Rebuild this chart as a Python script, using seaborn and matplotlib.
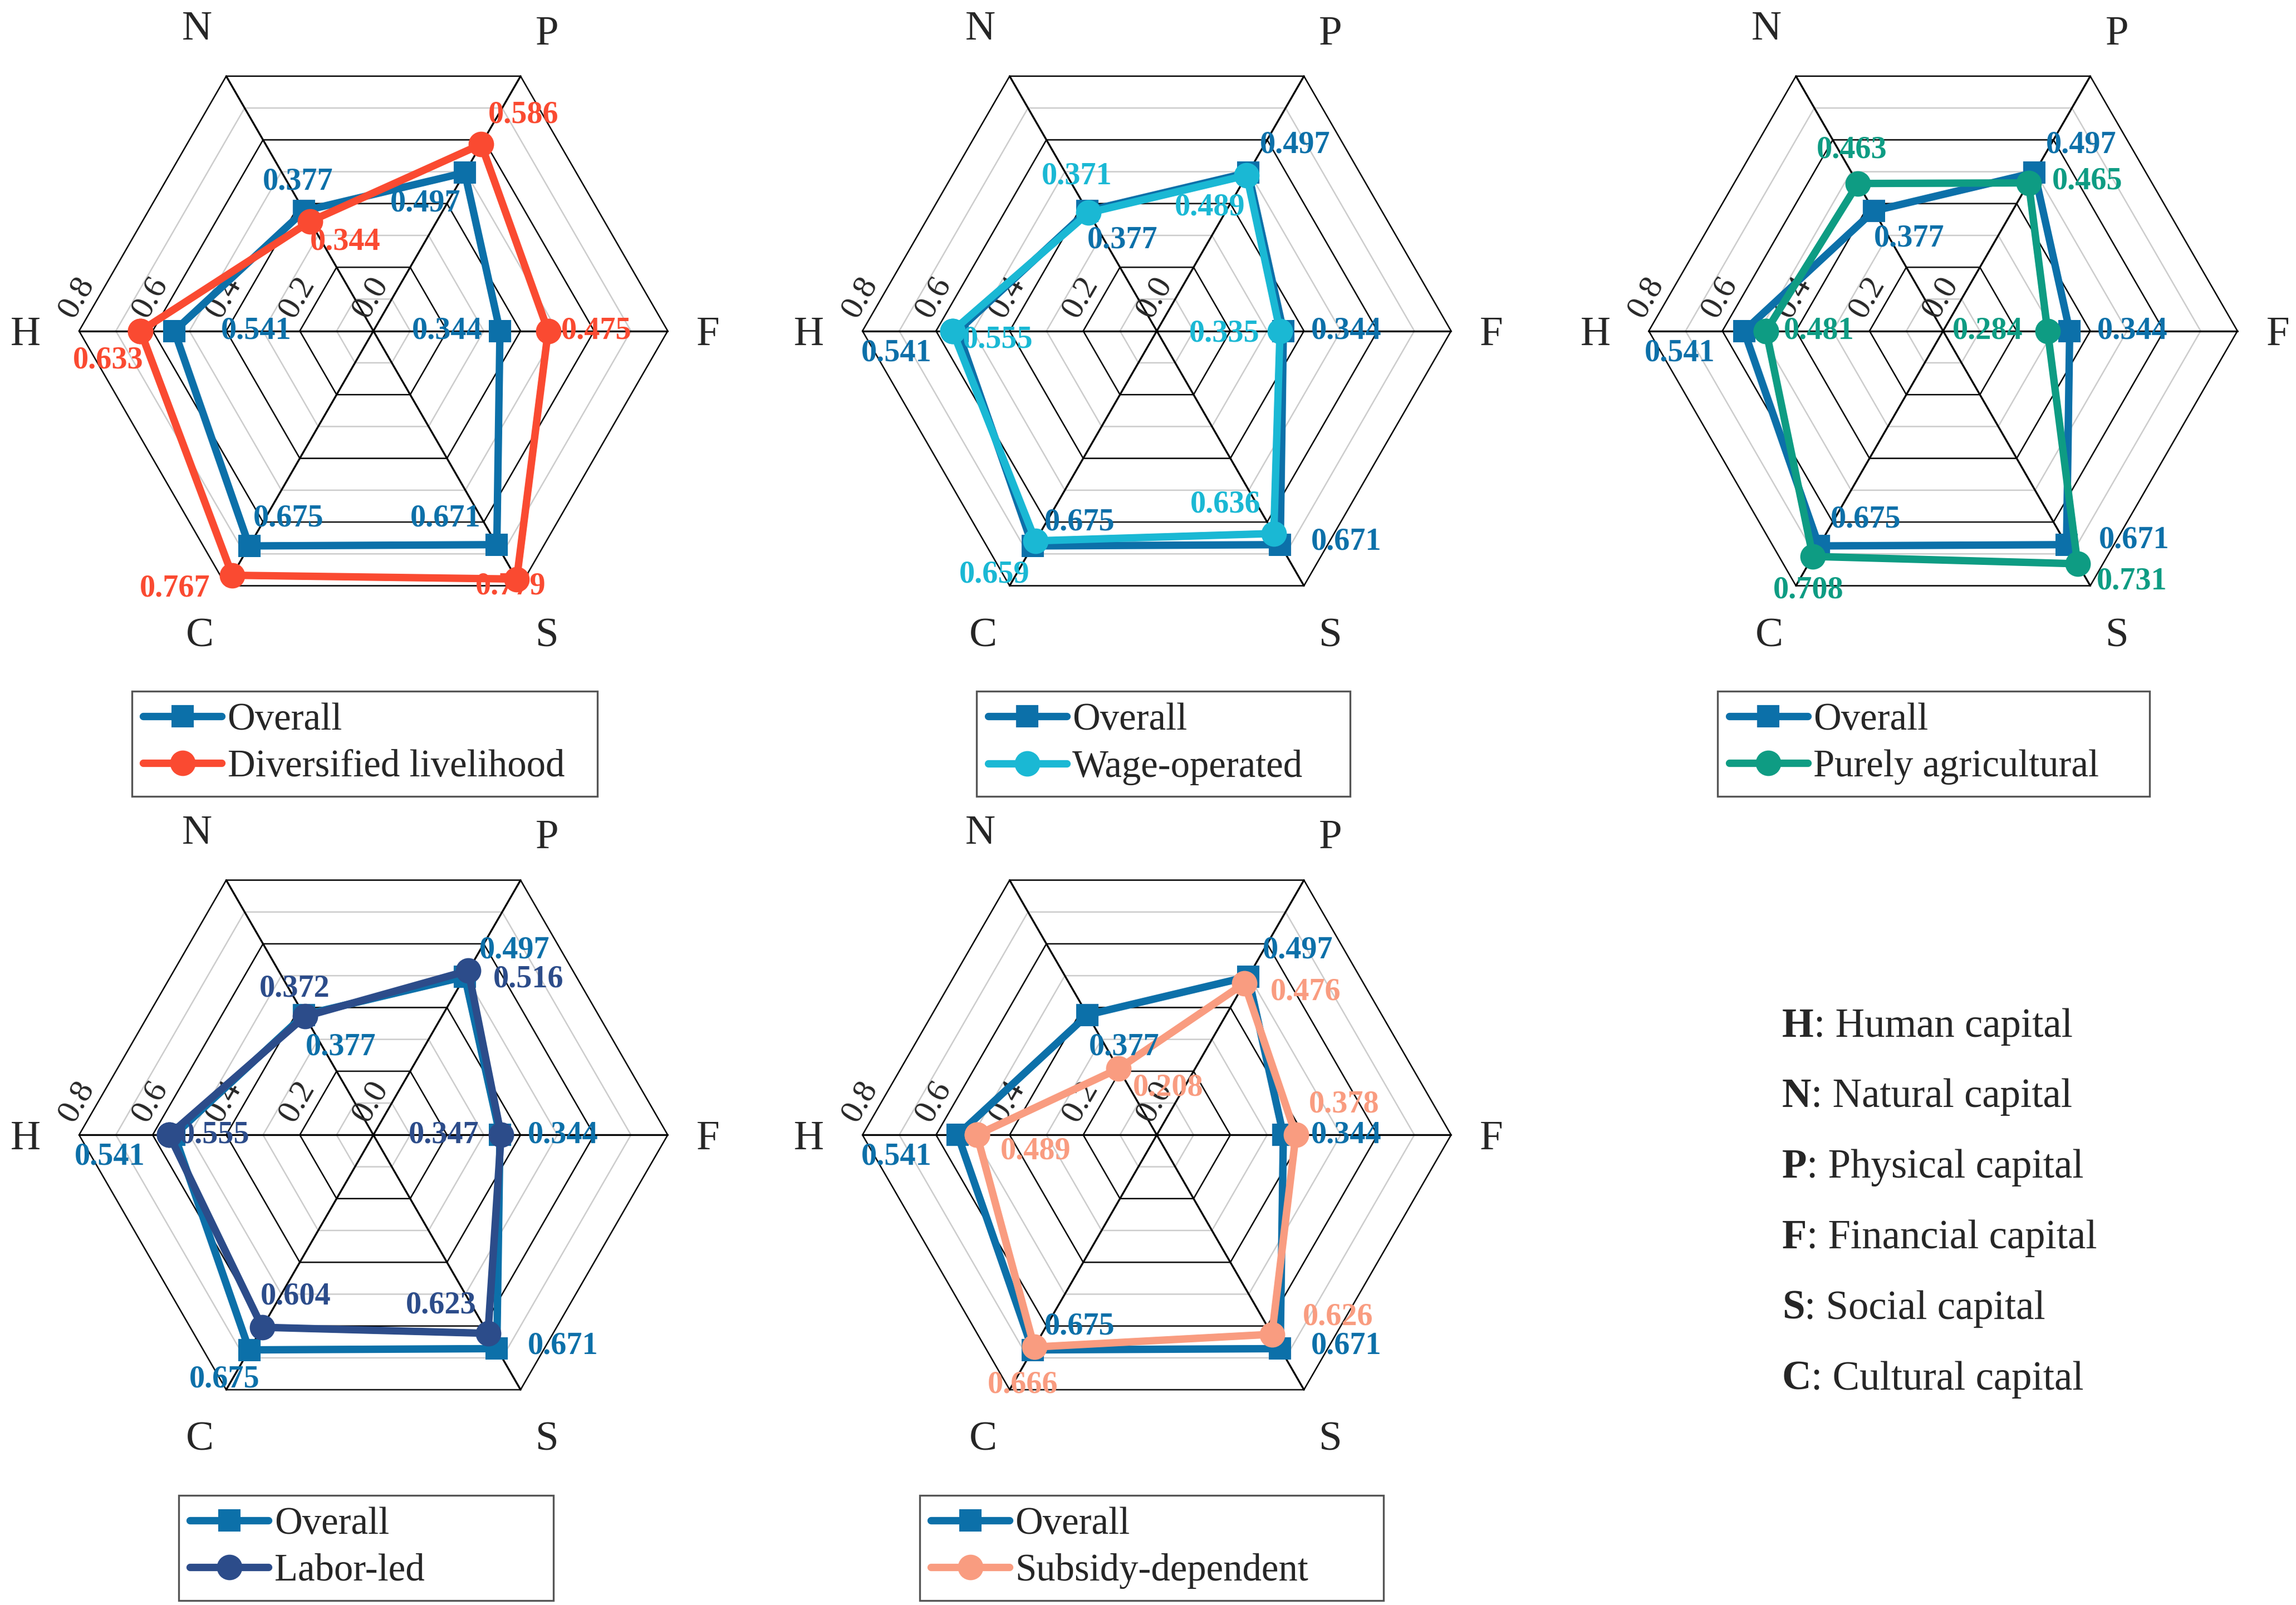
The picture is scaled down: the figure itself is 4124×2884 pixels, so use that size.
import numpy as np
import matplotlib.pyplot as plt
import seaborn as sns

# capital dimensions, clockwise from the left
dims = ["H", "N", "P", "F", "S", "C"]
dim_angles = [180, 120, 60, 0, -60, -120]

overall = [0.541, 0.377, 0.497, 0.344, 0.671, 0.675]
diversified = [0.633, 0.344, 0.586, 0.475, 0.779, 0.767]
wage = [0.555, 0.371, 0.489, 0.335, 0.636, 0.659]
agricultural = [0.481, 0.463, 0.465, 0.284, 0.731, 0.708]
labor = [0.555, 0.372, 0.516, 0.347, 0.623, 0.604]
subsidy = [0.489, 0.208, 0.476, 0.378, 0.626, 0.666]

group_names = ["Diversified livelihood", "Wage-operated", "Purely agricultural",
               "Labor-led", "Subsidy-dependent"]
group_values = [diversified, wage, agricultural, labor, subsidy]

ring_ticks = [0.0, 0.2, 0.4, 0.6, 0.8]

key_letters = ["H", "N", "P", "F", "S", "C"]
key_names = ["Human capital", "Natural capital", "Physical capital",
             "Financial capital", "Social capital", "Cultural capital"]

# styling
c_overall = "#0C70A9"
group_colors = ["#FA4A31", "#1AB8D4", "#0E9C83", "#2C4C8A", "#F99C80"]
dim_label_r = [0.945, 0.96, 0.945, 0.91, 0.945, 0.945]

# label offsets (reference px, y down) for each value label
off_overall = [
    [(56, 0), (-4, -20), (-27, 21), (-36, 0), (-35, -18), (27, -19)],
    [(-42, 15), (24, 20), (32, -19), (43, 0), (45, -2), (32, -16)],
    [(-44, 15), (24, 19), (32, -19), (43, 0), (46, -3), (32, -18)],
    [(-44, 15), (25, 22), (34, -18), (43, 0), (45, -2), (-17, 20)],
    [(-42, 15), (25, 22), (34, -18), (43, 0), (45, -2), (32, -16)],
]
off_group = [
    [(-22, 20), (24, 14), (29, -20), (33, 0), (-4, 5), (-39, 9)],
    [(31, 6), (-8, -25), (-25, 22), (-38, 2), (-33, -20), (-28, 23)],
    [(36, 0), (-4, -23), (40, -1), (-41, 0), (37, 12), (-3, 23)],
    [(31, 0), (-7, -19), (41, 6), (-39, 0), (-32, -19), (23, -21)],
    [(40, 11), (34, 13), (42, 6), (33, -21), (45, -12), (-8, 26)],
]
centers = [(255, 226), (790, 226), (1327, 226), (255, 775), (790, 775)]
legend_boxes = [(90, 408, 472, 537), (667, 922, 472, 537), (1173, 1468, 472, 537),
                (122, 378, 1021, 1087), (628, 945, 1021, 1087)]
W, H = 1568.0, 1096.0
R = 201.0
k = 2.63 * 72 / 300

sns.set_style("white")
plt.rcParams["font.family"] = ["Liberation Serif", "DejaVu Serif"]

fig = plt.figure(figsize=(4124 / 300, 2884 / 300), dpi=300)

theta = np.deg2rad(dim_angles)
closed = np.append(theta, theta[0])

for i, (name, vals) in enumerate(zip(group_names, group_values)):
    cx, cy = centers[i]
    ax = fig.add_axes([(cx - R) / W, 1 - (cy + R) / H, 2 * R / W, 2 * R / H],
                      projection="polar")
    ax.set_ylim(0, 0.8)
    ax.set_axis_off()

    # hexagonal grid
    for j in range(1, 9):
        r = j / 10
        even = j % 2 == 0
        ax.plot(closed, [r] * 7, color="black" if even else "#cccccc",
                lw=0.6, clip_on=False, zorder=1)
    for t in theta:
        ax.plot([t, t], [0, 0.8], color="black", lw=0.8, clip_on=False, zorder=1)

    for v in ring_ticks:
        ax.annotate(f"{v:.1f}", xy=(np.pi, v), xytext=(-1, 14.5),
                    textcoords="offset points", rotation=60, ha="center",
                    va="center", fontsize=14.5)
    for t, d, lr in zip(theta, dims, dim_label_r):
        ax.text(t, lr, d, ha="center", va="center_baseline", fontsize=18)

    df_o = {"theta": closed, "r": np.append(overall, overall[0])}
    df_g = {"theta": closed, "r": np.append(vals, vals[0])}
    sns.lineplot(x=df_o["theta"], y=df_o["r"], ax=ax, sort=False, estimator=None,
                 color=c_overall, lw=3.2, marker="s", markersize=9.5,
                 markeredgewidth=0, label="Overall", zorder=3)
    sns.lineplot(x=df_g["theta"], y=df_g["r"], ax=ax, sort=False, estimator=None,
                 color=group_colors[i], lw=3.2, marker="o", markersize=11,
                 markeredgewidth=0, label=name, zorder=4)
    for ln in ax.lines:
        ln.set_clip_on(False)
    if ax.get_legend() is not None:
        ax.get_legend().remove()
    ax.set_xlabel("")
    ax.set_ylabel("")

    for t, v, (dx, dy) in zip(theta, overall, off_overall[i]):
        ax.annotate(f"{v:.3f}", xy=(t, v), xytext=(dx * k, -dy * k),
                    textcoords="offset points", ha="center", va="center",
                    color=c_overall, fontweight="bold", fontsize=13.5, zorder=6)
    for t, v, (dx, dy) in zip(theta, vals, off_group[i]):
        ax.annotate(f"{v:.3f}", xy=(t, v), xytext=(dx * k, -dy * k),
                    textcoords="offset points", ha="center", va="center",
                    color=group_colors[i], fontweight="bold", fontsize=13.5, zorder=6)

    handles, labels = ax.get_legend_handles_labels()
    x0, x1, y0, y1 = legend_boxes[i]
    leg = fig.legend(handles, labels, loc="upper left",
                     bbox_to_anchor=(x0 / W, 1 - y1 / H, (x1 - x0) / W, (y1 - y0) / H),
                     mode="expand", borderaxespad=0, fontsize=16.5, handlelength=2.05,
                     handletextpad=0.15, labelspacing=0.3, borderpad=0.3,
                     fancybox=False, framealpha=1, edgecolor="#555555")
    leg.get_frame().set_linewidth(0.8)

# key for the capital letters
lax = fig.add_axes([0, 0, 1, 1])
lax.set_axis_off()
for j, (let, nm) in enumerate(zip(key_letters, key_names)):
    y = 1 - (701 + 48.2 * j) / H
    t = lax.text(1217 / W, y, let, fontweight="bold", fontsize=17.5,
                 ha="left", va="center", transform=lax.transAxes)
    lax.annotate(": " + nm, xy=(1, 0), xycoords=t, ha="left", va="bottom",
                 fontsize=17.5)

fig.savefig("out.png", dpi=300)
